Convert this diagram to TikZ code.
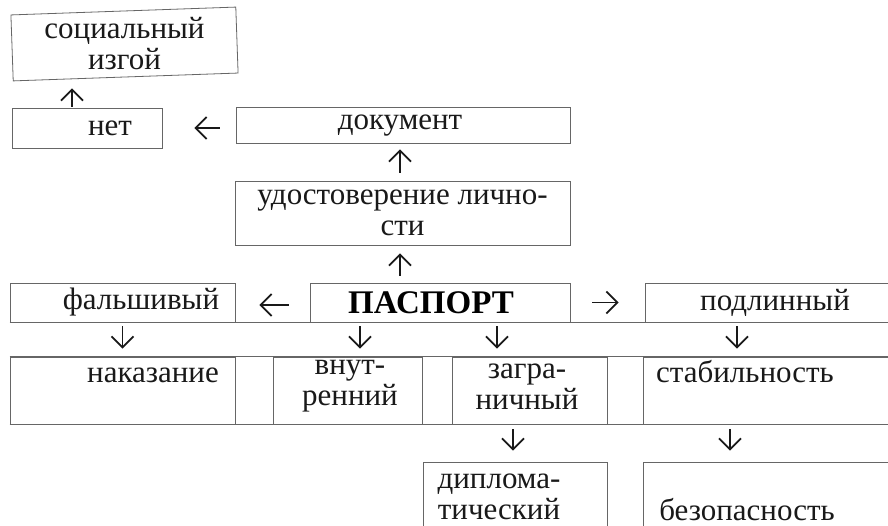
\documentclass[tikz,border=0pt]{standalone}
\usepackage{fontspec}
\setmainfont{Liberation Serif}
\usetikzlibrary{arrows.meta}
\tikzset{
  arrtip/.tip={Straight Barb[length=11pt,width=22pt,line width=1.8pt]}
}
\begin{document}
\begin{tikzpicture}[x=1pt,y=1pt,
  box/.style={draw=black!60, line width=0.8pt, inner sep=0pt},
  txt/.style={font=\fontsize{31}{31}\selectfont, align=center, inner sep=0pt, text=black!90},
  boldtxt/.style={font=\fontsize{33}{33}\selectfont\bfseries, inner sep=0pt, text=black},
  arr/.style={draw=black!90, line width=1.8pt, -arrtip},
  sline/.style={draw=black!60, line width=0.8pt}]
\useasboundingbox (0,0) rectangle (888,526);
\fill[white] (0,0) rectangle (888,526);
\clip (0,0) rectangle (888,526);
% row 1-2
\node[box, minimum width=225pt, minimum height=66pt, rotate=2,
  label={[txt]center:социальный\\изгой}] (soc) at (124.5,482) {};
\node[box, minimum width=150pt, minimum height=40pt,
  label={[txt,xshift=23pt]center:нет}] (net) at (87,398) {};
\node[box, minimum width=334pt, minimum height=36pt,
  label={[txt,xshift=-3pt,yshift=-1pt]center:документ}] (doc) at (403,401) {};
\node[box, minimum width=335pt, minimum height=64pt,
  label={[txt]center:удостоверение лично-\\сти}] (udo) at (402.5,313) {};
% row 3
\node[box, minimum width=225pt, minimum height=39pt,
  label={[txt,xshift=18.5pt]center:фальшивый}] (fal) at (122.5,223.5) {};
\node[box, minimum width=260pt, minimum height=39pt,
  label={[boldtxt,xshift=-9pt]center:ПАСПОРТ}] (pas) at (440,223.5) {};
\node[box, minimum width=250pt, minimum height=39pt,
  label={[txt,xshift=5pt]center:подлинный}] (pod) at (770,223.5) {};
\draw[sline] (fal.south west) -- (pod.south east);
% row 4
\node[box, minimum width=225pt, minimum height=67pt,
  label={[txt,xshift=30.5pt,yshift=15.5pt]center:наказание}] (nak) at (122.5,135.5) {};
\node[box, minimum width=149pt, minimum height=67pt,
  label={[txt,xshift=2.5pt,yshift=4pt]center:внут-\\ренний}] (vnu) at (347.5,135.5) {};
\node[box, minimum width=155pt, minimum height=67pt,
  label={[txt,xshift=-2.5pt,yshift=4pt]center:загра-\\ничный}] (zag) at (529.5,135.5) {};
\node[box, minimum width=252pt, minimum height=67pt,
  label={[txt,xshift=-24pt,yshift=18.5pt]center:стабильность}] (stab) at (769,135.5) {};
\draw[sline] (nak.north west) -- (stab.north east);
\draw[sline] (nak.south west) -- (stab.south east);
% row 5
\node[box, minimum width=184pt, minimum height=78pt,
  label={[txt,xshift=-16pt,yshift=4pt]center:диплома-\\тический}] (dip) at (515,25) {};
\node[box, minimum width=252pt, minimum height=78pt,
  label={[txt,xshift=-22pt,yshift=-9pt]center:безопасность}] (bez) at (769,25) {};
% arrows
\draw[arr, shorten <=1pt, shorten >=11pt] ([xshift=-15pt]net.north) -- ([xshift=-15pt]net.north |- soc.south);
\draw[arr, shorten <=16pt, shorten >=32pt] (doc.west |- net.east) -- (net.east);
\draw[arr, shorten <=8pt, shorten >=6pt] ([xshift=-2.5pt]udo.north) -- ([xshift=-3pt]doc.south);
\draw[arr, shorten <=7pt, shorten >=8pt] ([xshift=-2.5pt]udo.south |- pas.north) -- ([xshift=-2.5pt]udo.south);
\draw[arr, shorten <=21pt, shorten >=24pt] ([yshift=-2.5pt]pas.west) -- ([yshift=-2.5pt]fal.east);
\draw[arr, shorten <=22pt, shorten >=26pt] (pas.east) -- (pod.west);
\draw[arr, shorten <=4pt, shorten >=8pt] (fal.south) -- (nak.north);
\draw[arr, shorten <=4pt, shorten >=8pt] ([xshift=12.5pt]vnu.north |- pas.south) -- ([xshift=12.5pt]vnu.north);
\draw[arr, shorten <=4pt, shorten >=8pt] ([xshift=-32.5pt]zag.north |- pas.south) -- ([xshift=-32.5pt]zag.north);
\draw[arr, shorten <=4pt, shorten >=8pt] ([xshift=-32pt]stab.north |- pod.south) -- ([xshift=-32pt]stab.north);
\draw[arr, shorten <=5pt, shorten >=11pt] ([xshift=-2pt]dip.north |- zag.south) -- ([xshift=-2pt]dip.north);
\draw[arr, shorten <=5pt, shorten >=11pt] ([xshift=-39pt]bez.north |- stab.south) -- ([xshift=-39pt]bez.north);
\end{tikzpicture}
\end{document}
